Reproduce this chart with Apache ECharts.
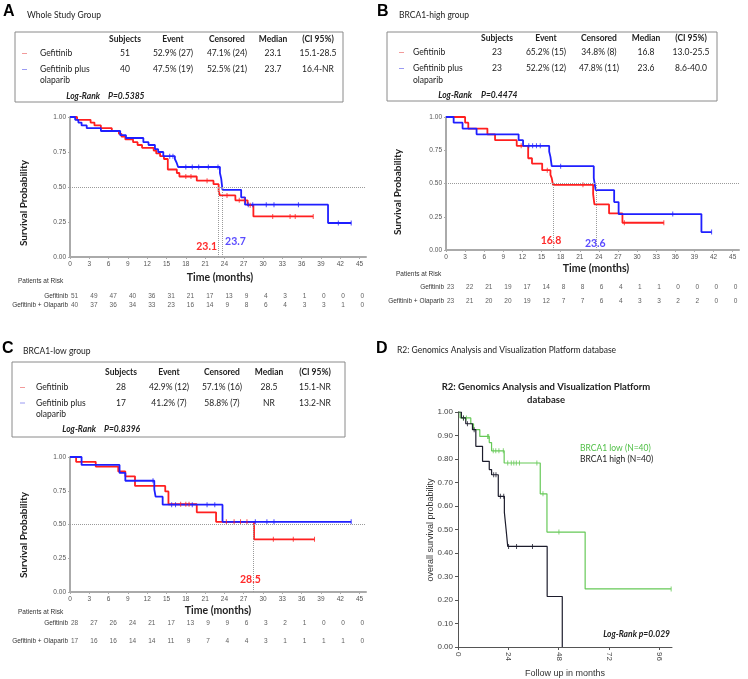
<!DOCTYPE html>
<html><head><meta charset="utf-8">
<script src="https://cdn.jsdelivr.net/npm/echarts@6/dist/echarts.min.js"></script>
<style>html,body{margin:0;padding:0;background:#fff}#c{width:748px;height:679px}</style>
</head><body><div id="c"></div>
<script>
// ---------- DATA ----------
const kmTicks = [0,3,6,9,12,15,18,21,24,27,30,33,36,39,42,45];
const dTicks = [0,24,48,72,96];
const tableHeaders = ['Subjects','Event','Censored','Median','(CI 95%)'];
const armNames = ['Gefitinib','Gefitinib plus','olaparib'];
const riskRows = ['Gefitinib','Gefitinib + Olaparib'];

// Panel A: whole study group
const tabA_gef = ['51','52.9% (27)','47.1% (24)','23.1','15.1-28.5'];
const tabA_ola = ['40','47.5% (19)','52.5% (21)','23.7','16.4-NR'];
const pA = 'P=0.5385';
const aRedT = [0,1.1,3.2,3.8,4.8,6.5,7.6,8.0,8.6,9.8,10.5,11.2,13.0,13.4,14.0,14.6,15.2,16.6,17.0,19.7,22.3,23.1,23.3,25.7,27.6,28.5,37.8];
const aRedS = [1,0.98,0.96,0.94,0.92,0.90,0.88,0.86,0.84,0.82,0.80,0.78,0.76,0.74,0.72,0.70,0.625,0.60,0.575,0.545,0.52,0.47,0.44,0.405,0.37,0.29,0.29];
const aRedC = [18.0,18.8,21.3,24.4,26.3,27.1,28.0,31.5,34.2,35.0,37.8];
const aBlueT = [0,0.8,1.3,1.8,2.6,4.8,7.8,8.7,11.4,12.2,13.2,13.7,14.5,16.3,16.6,16.8,23.3,23.5,23.7,26.6,27.2,40.1,43.7];
const aBlueS = [1,0.98,0.96,0.94,0.92,0.90,0.87,0.85,0.82,0.80,0.77,0.75,0.72,0.70,0.67,0.643,0.60,0.56,0.48,0.426,0.374,0.243,0.243];
const aBlueC = [15.5,16.0,18.0,19.0,20.0,21.5,23.0,27.7,28.4,30.5,31.7,35.5,41.7,43.7];
const aMedians = [23.1,23.7];
const aRiskGef = [51,49,47,40,36,31,21,17,13,9,4,3,1,0,0,0];
const aRiskOla = [40,37,36,34,33,23,16,14,9,8,6,4,3,3,1,0];

// Panel B: BRCA1-high
const tabB_gef = ['23','65.2% (15)','34.8% (8)','16.8','13.0-25.5'];
const tabB_ola = ['23','52.2% (12)','47.8% (11)','23.6','8.6-40.0'];
const pB = 'P=0.4474';
const bRedT = [0,3.0,3.5,6.5,7.7,11.1,12.9,13.5,15.1,16.4,16.6,16.8,23.1,23.3,25.6,27.7,34.2];
const bRedS = [1,0.957,0.913,0.87,0.826,0.783,0.69,0.65,0.60,0.565,0.54,0.49,0.42,0.343,0.275,0.205,0.205];
const bRedC = [11.8,15.9,21.5,28.0,34.2];
const bBlueT = [0,1.2,2.6,4.8,11.4,12.1,16.2,16.4,16.6,23.2,23.5,26.4,27.1,40.1,41.7];
const bBlueS = [1,0.957,0.913,0.87,0.826,0.783,0.74,0.70,0.63,0.54,0.45,0.36,0.27,0.135,0.135];
const bBlueC = [13.0,13.6,14.2,14.8,18.0,35.6,41.7];
const bMedians = [16.8,23.6];
const bRiskGef = [23,22,21,19,17,14,8,8,6,4,1,1,0,0,0,0];
const bRiskOla = [23,21,20,20,19,12,7,7,6,4,3,3,2,2,0,0];

// Panel C: BRCA1-low
const tabC_gef = ['28','42.9% (12)','57.1% (16)','28.5','15.1-NR'];
const tabC_ola = ['17','41.2% (7)','58.8% (7)','NR','13.2-NR'];
const pC = 'P=0.8396';
const cRedT = [0,0.95,4.0,7.5,8.6,10.1,14.8,15.3,19.7,22.7,28.6,38.0];
const cRedS = [1,0.964,0.929,0.893,0.857,0.786,0.745,0.65,0.59,0.52,0.39,0.39];
const cRedC = [17.2,18.0,18.5,24.3,25.5,26.5,27.5,31.6,34.7,38.0];
const cBlueT = [0,1.8,7.7,8.6,13.1,13.3,14.4,23.7,43.7];
const cBlueS = [1,0.941,0.882,0.824,0.76,0.706,0.647,0.52,0.52];
const cBlueC = [12.9,15.8,16.4,19.0,21.3,22.5,28.8,30.6,31.7,43.7];
const cMedians = [28.5];
const cRiskGef = [28,27,26,24,21,17,13,9,9,6,3,2,1,0,0,0];
const cRiskOla = [17,16,16,14,14,11,9,7,4,4,3,1,1,1,1,0];

// Panel D: R2 database
const dBlkT = [0,1.6,3.7,6.9,8.5,11.7,14.9,16.0,19.2,22.1,22.9,23.7,42.5,49.7];
const dBlkS = [1,0.975,0.95,0.925,0.854,0.79,0.755,0.733,0.641,0.573,0.502,0.428,0.215,0];
const dBlkC = [2.6,4.5,7.7,17.0,18.1,20.2,21.8,24.1,27.9,35.5];
const dGrnT = [0,1.0,6.1,7.4,10.4,14.9,16.0,22.0,39.2,42.4,60.6,101.6];
const dGrnS = [1,0.975,0.95,0.925,0.896,0.87,0.835,0.783,0.652,0.489,0.247,0.247];
const dGrnC = [2.6,4.0,14.1,14.6,16.8,18.0,19.5,21.6,23.7,25.4,26.6,27.8,29.3,37.6,40.5,48.1,101.6];
const dLegend = ['BRCA1 low (N=40)','BRCA1 high (N=40)'];

// ---------- HELPERS ----------
const RED = '#ff1f1f', BLUE = '#1f1fff', GREEN = '#66c957', BLACK = '#1c1c2c';
const SANS = 'Lato, "Open Sans", sans-serif';
const ARIAL = '"Liberation Sans", Arial, sans-serif';
function survAt(T, S, t) { let v = S[0]; for (let i = 0; i < T.length; i++) if (T[i] <= t) v = S[i]; return v; }
function km(T, S, C, color, gi, width, extra) {
  const line = Object.assign({
    type: 'line', xAxisIndex: gi, yAxisIndex: gi, step: 'end', symbol: 'none', silent: true,
    data: T.map((t, i) => [t, S[i]]), lineStyle: { color, width: width || 1.8 }, z: 3
  }, extra || {});
  const cens = { type: 'scatter', xAxisIndex: gi, yAxisIndex: gi, silent: true, symbol: 'rect', symbolSize: [1, 5],
    itemStyle: { color }, data: C.map(t => [t, survAt(T, S, t)]), z: 4 };
  return [line, cens];
}
function risk(gi, gef, ola) {
  const data = [];
  kmTicks.forEach((t, i) => { data.push([t, riskRows[0], gef[i]]); data.push([t, riskRows[1], ola[i]]); });
  return { type: 'scatter', xAxisIndex: gi, yAxisIndex: gi, symbolSize: 0, silent: true, data,
    label: { show: true, position: 'right', distance: 1, formatter: p => p.value[2], fontSize: 6.5, color: '#333', fontFamily: ARIAL } };
}
function medianMarks(meds, colors, offsets) {
  const lines = [{ yAxis: 0.5 }];
  meds.forEach(m => lines.push([{ coord: [m, 0] }, { coord: [m, 0.5] }]));
  return {
    markLine: { silent: true, symbol: 'none', label: { show: false }, lineStyle: { type: 'dotted', color: '#9a9a9a', width: 1 }, data: lines },
    markPoint: { silent: true, symbol: 'circle', symbolSize: 0, data: meds.map((m, i) => ({
      coord: [m, 0], label: { show: true, formatter: String(m), offset: offsets[i], color: colors[i], fontSize: 10.5, fontWeight: 'bold', fontFamily: SANS } })) }
  };
}
function kmX(gi) {
  return { type: 'value', gridIndex: gi, min: 0, max: 46,
    axisLine: { show: true, onZero: false, lineStyle: { color: '#aaaaaa', width: 2 } },
    axisTick: { show: true, customValues: kmTicks, length: 2, lineStyle: { color: '#aaaaaa' } },
    axisLabel: { customValues: kmTicks, fontSize: 6.5, color: '#555', margin: 4, fontFamily: ARIAL },
    splitLine: { show: false } };
}
function kmY(gi) {
  return { type: 'value', gridIndex: gi, min: 0, max: 1, interval: 0.25,
    axisLine: { show: true, lineStyle: { color: '#aaaaaa', width: 2 } },
    axisTick: { show: true, length: 2, lineStyle: { color: '#aaaaaa' } },
    axisLabel: { formatter: v => v.toFixed(2), fontSize: 6.5, color: '#555', margin: 4, fontFamily: ARIAL },
    splitLine: { show: false } };
}
function riskX(gi) { return { type: 'value', gridIndex: gi, min: 0, max: 46, show: false }; }
function riskY(gi) {
  return { type: 'category', gridIndex: gi, data: riskRows, inverse: true,
    axisLine: { show: false }, axisTick: { show: false }, splitLine: { show: false },
    axisLabel: { interval: 0, hideOverlap: false, fontSize: 6.5, color: '#333', margin: 2, fontFamily: ARIAL } };
}
function txt(x, y, text, o) {
  o = o || {};
  return { type: 'text', x, y, rotation: o.rot || 0, silent: true, z: 10,
    style: { text, fill: o.color || '#222', font: o.font || ('8.5px ' + SANS),
      align: o.align || 'left', verticalAlign: 'middle', textAlign: o.align || 'left', textVerticalAlign: 'middle' } };
}
function table(L, gef, ola, pval) {
  const els = [];
  els.push({ type: 'rect', silent: true, shape: { x: L.box[0], y: L.box[1], width: L.box[2], height: L.box[3] },
    style: { fill: 'none', stroke: '#8a8a8a', lineWidth: 1 } });
  tableHeaders.forEach((h, i) => els.push(txt(L.cols[i], L.yH, h, { align: 'center', font: 'bold 8.5px ' + SANS })));
  els.push({ type: 'line', silent: true, shape: { x1: L.dash, y1: L.yR1, x2: L.dash + 5, y2: L.yR1 }, style: { stroke: '#f29a9a', lineWidth: 1 } });
  els.push({ type: 'line', silent: true, shape: { x1: L.dash, y1: L.yR2, x2: L.dash + 5, y2: L.yR2 }, style: { stroke: '#9a9af2', lineWidth: 1 } });
  els.push(txt(L.name, L.yR1, armNames[0]));
  els.push(txt(L.name, L.yR2, armNames[1]));
  els.push(txt(L.name, L.yR3, armNames[2]));
  gef.forEach((v, i) => els.push(txt(L.cols[i], L.yR1, v, { align: 'center' })));
  ola.forEach((v, i) => els.push(txt(L.cols[i], L.yR2, v, { align: 'center' })));
  els.push(txt(L.lr, L.yLR, 'Log-Rank', { align: 'right', font: 'italic bold 8.5px ' + SANS }));
  els.push(txt(L.p, L.yLR, pval, { font: 'italic bold 8.5px ' + SANS }));
  return els;
}

// ---------- LAYOUT ----------
const grids = [
  { left: 70, top: 117, width: 296, height: 140 },
  { left: 70, top: 292, width: 296, height: 17 },
  { left: 446, top: 117, width: 293, height: 133 },
  { left: 446, top: 280, width: 293, height: 28 },
  { left: 70, top: 457, width: 296, height: 135 },
  { left: 70, top: 614, width: 296, height: 36 },
  { left: 458, top: 412, width: 214, height: 235 }
];
const dX = { type: 'value', gridIndex: 6, min: 0, max: 102,
  axisLine: { show: true, onZero: false, lineStyle: { color: '#555', width: 1 } },
  axisTick: { show: true, customValues: dTicks, length: 3, lineStyle: { color: '#555' } },
  axisLabel: { customValues: dTicks, rotate: -90, fontSize: 8, color: '#444', margin: 5, fontFamily: ARIAL },
  splitLine: { show: false } };
const dY = { type: 'value', gridIndex: 6, min: 0, max: 1, interval: 0.1,
  axisLine: { show: true, lineStyle: { color: '#555', width: 1 } },
  axisTick: { show: true, length: 3, lineStyle: { color: '#555' } },
  axisLabel: { formatter: v => v.toFixed(2), fontSize: 8, color: '#444', margin: 5, fontFamily: ARIAL },
  splitLine: { show: false } };

const series = [].concat(
  km(aRedT, aRedS, aRedC, RED, 0, 1.8, medianMarks(aMedians, ['#ff2a2a', '#5a4bff'], [[-12, -10.5], [13, -15.5]])),
  km(aBlueT, aBlueS, aBlueC, BLUE, 0),
  [risk(1, aRiskGef, aRiskOla)],
  km(bRedT, bRedS, bRedC, RED, 2, 1.8, medianMarks(bMedians, ['#ff2a2a', '#5a4bff'], [[-2, -9], [-1, -6]])),
  km(bBlueT, bBlueS, bBlueC, BLUE, 2),
  [risk(3, bRiskGef, bRiskOla)],
  km(cRedT, cRedS, cRedC, RED, 4, 1.8, medianMarks(cMedians, ['#ff2a2a'], [[-3, -12]])),
  km(cBlueT, cBlueS, cBlueC, BLUE, 4),
  [risk(5, cRiskGef, cRiskOla)],
  km(dGrnT, dGrnS, dGrnC, GREEN, 6, 1.2),
  km(dBlkT, dBlkS, dBlkC, BLACK, 6, 1.2)
);

const graphics = [].concat(
  [txt(3, 12, 'A', { font: 'bold 16px ' + ARIAL, color: '#000' }), txt(27, 15, 'Whole Study Group', { font: '8.5px ' + SANS })],
  table({ box: [15, 32, 328, 70], cols: [125, 173, 227, 273, 318], yH: 39, yR1: 53.5, yR2: 69.5, yR3: 80, yLR: 96, dash: 22, name: 40, lr: 100, p: 108 }, tabA_gef, tabA_ola, pA),
  [txt(24, 203, 'Survival Probability', { rot: Math.PI / 2, align: 'center', font: 'bold 10px ' + SANS }),
   txt(220, 278, 'Time (months)', { align: 'center', font: 'bold 10.5px ' + SANS }),
   txt(18, 281, 'Patients at Risk', { font: '6.5px ' + ARIAL, color: '#333' })],
  [txt(377, 12, 'B', { font: 'bold 16px ' + ARIAL, color: '#000' }), txt(399, 15, 'BRCA1-high group', { font: '8.5px ' + SANS })],
  table({ box: [387, 32, 330, 69], cols: [497, 546, 599, 646, 691], yH: 38, yR1: 52.5, yR2: 68.5, yR3: 80, yLR: 95, dash: 399, name: 413, lr: 472, p: 481 }, tabB_gef, tabB_ola, pB),
  [txt(398, 192, 'Survival Probability', { rot: Math.PI / 2, align: 'center', font: 'bold 10px ' + SANS }),
   txt(596, 269, 'Time (months)', { align: 'center', font: 'bold 10.5px ' + SANS }),
   txt(396, 274, 'Patients at Risk', { font: '6.5px ' + ARIAL, color: '#333' })],
  [txt(2, 349, 'C', { font: 'bold 16px ' + ARIAL, color: '#000' }), txt(23, 351, 'BRCA1-low group', { font: '8.5px ' + SANS })],
  table({ box: [12, 362, 333, 75], cols: [121, 169, 222, 269, 315], yH: 372.5, yR1: 387.5, yR2: 403, yR3: 414, yLR: 429, dash: 20, name: 36, lr: 96, p: 104 }, tabC_gef, tabC_ola, pC),
  [txt(24, 535, 'Survival Probability', { rot: Math.PI / 2, align: 'center', font: 'bold 10px ' + SANS }),
   txt(218, 611, 'Time (months)', { align: 'center', font: 'bold 10.5px ' + SANS }),
   txt(18, 612, 'Patients at Risk', { font: '6.5px ' + ARIAL, color: '#333' })],
  [txt(376, 349, 'D', { font: 'bold 16px ' + ARIAL, color: '#000' }),
   txt(397, 350, 'R2: Genomics Analysis and Visualization Platform database', { font: '8.5px ' + SANS }),
   txt(546, 387, 'R2: Genomics Analysis and Visualization Platform', { align: 'center', font: 'bold 9.5px ' + SANS }),
   txt(546, 399.5, 'database', { align: 'center', font: 'bold 9.5px ' + SANS }),
   txt(580, 448, dLegend[0], { font: '8.5px ' + SANS, color: '#4fbf45' }),
   txt(580, 459.5, dLegend[1], { font: '8.5px ' + SANS, color: '#222' }),
   txt(431, 530, 'overall survival probability', { rot: Math.PI / 2, align: 'center', font: '9px ' + ARIAL, color: '#333' }),
   txt(565, 674, 'Follow up in months', { align: 'center', font: '9px ' + ARIAL, color: '#333' }),
   txt(670, 634.5, 'Log-Rank p=0.029', { align: 'right', font: 'italic bold 8.5px ' + SANS })]
);

const chart = echarts.init(document.getElementById('c'), null, { renderer: 'canvas' });
chart.setOption({
  animation: false,
  backgroundColor: '#fff',
  grid: grids,
  xAxis: [kmX(0), riskX(1), kmX(2), riskX(3), kmX(4), riskX(5), dX],
  yAxis: [kmY(0), riskY(1), kmY(2), riskY(3), kmY(4), riskY(5), dY],
  series,
  graphic: { elements: graphics }
});
</script></body></html>
